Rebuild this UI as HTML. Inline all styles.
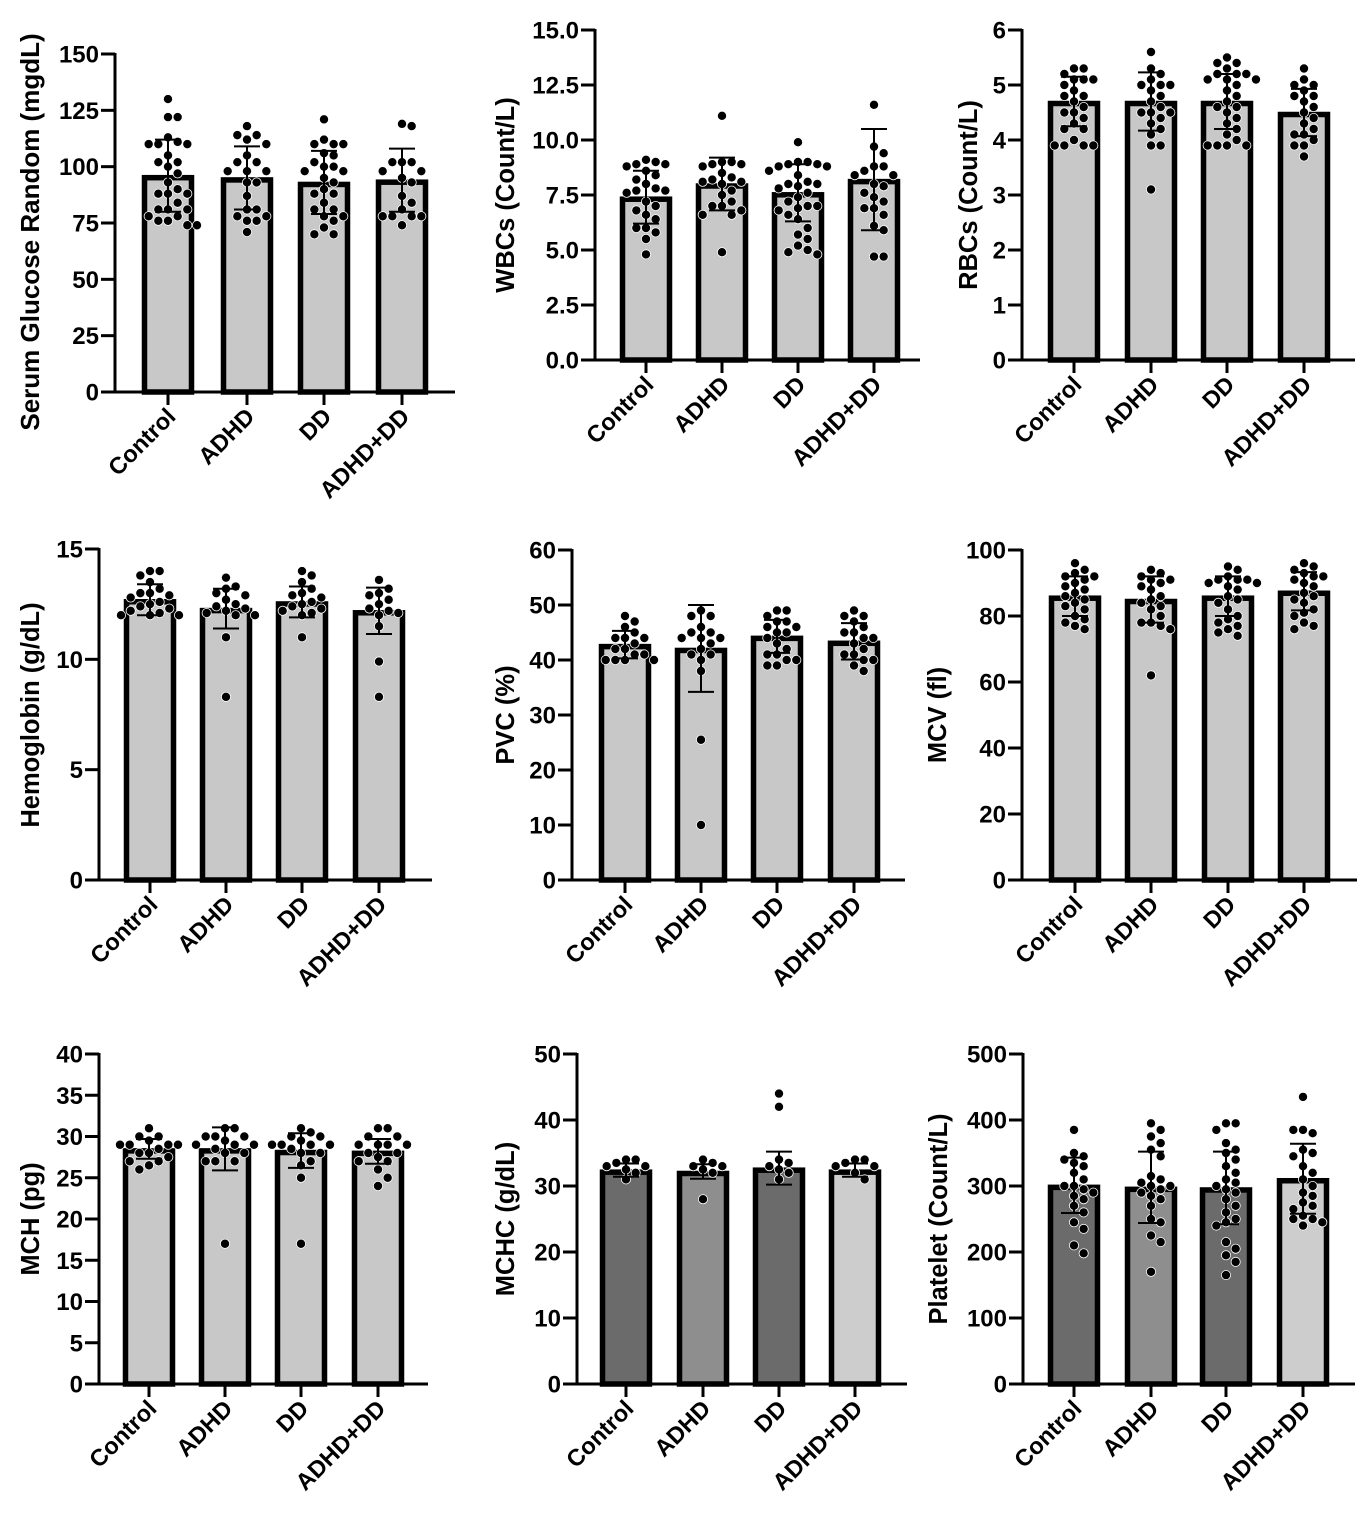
<!DOCTYPE html>
<html><head><meta charset="utf-8"><style>
html,body{margin:0;padding:0;background:#fff;}
svg{display:block;font-family:"Liberation Sans",Arial,sans-serif;font-weight:bold;}
</style></head><body>
<svg id="fig" width="1367" height="1530" viewBox="0 0 1367 1530"></svg>
<script>
const categories = ["Control","ADHD","DD","ADHD+DD"];

const glucoseMeans = [96,95,93,94];
const glucoseSd = [16,14,14,14];
const glucoseTicks = [0,25,50,75,100,125,150];
const glucoseDots = [
 [130,122,122,113,111,110,110,110,105,102,102,100,97,93,90,88,88,88,84,81,81,81,78,78,76,76,74,74],
 [118,114,114,112,110,105,102,102,98,98,98,93,93,87,81,81,78,78,76,76,71],
 [121,112,110,110,110,106,105,102,100,100,98,98,95,93,90,88,88,84,81,81,78,78,76,73,70,70],
 [119,118,102,102,102,98,98,95,93,87,84,81,78,78,78,78,74]];

const wbcMeans = [7.4,8.0,7.6,8.2];
const wbcSd = [1.2,1.2,1.3,2.3];
const wbcTicks = [0,2.5,5,7.5,10,12.5,15];
const wbcDots = [
 [9.1,9.0,8.9,8.9,8.8,8.6,8.4,8.2,8.0,7.8,7.7,7.7,7.6,7.2,7.0,6.8,6.6,6.4,6.0,6.0,5.8,5.5,4.8],
 [11.1,9.0,9.0,8.9,8.9,8.8,8.5,8.3,8.2,8.1,8.1,8.0,7.7,7.5,7.2,7.0,7.0,6.8,6.6,6.6,4.9],
 [9.9,9.0,9.0,8.9,8.9,8.8,8.8,8.6,8.4,8.1,8.0,8.0,7.9,7.8,7.6,7.4,7.2,7.0,7.0,6.9,6.8,6.6,6.4,6.0,5.7,5.5,5.2,5.0,4.9,4.8],
 [11.6,9.7,9.4,8.8,8.8,8.6,8.4,8.4,8.0,7.9,7.6,7.4,7.2,6.9,6.9,6.6,6.1,5.9,4.7,4.7]];

const rbcMeans = [4.7,4.7,4.7,4.5];
const rbcSd = [0.45,0.53,0.5,0.43];
const rbcTicks = [0,1,2,3,4,5,6];
const rbcDots = [
 [5.3,5.3,5.2,5.1,5.1,5.1,5.0,4.9,4.8,4.8,4.7,4.6,4.5,4.5,4.4,4.3,4.2,4.2,4.0,3.9,3.9,3.9,3.9],
 [5.6,5.3,5.2,5.1,5.0,5.0,5.0,4.9,4.8,4.7,4.6,4.5,4.5,4.5,4.4,4.3,4.2,4.1,3.9,3.9,3.1],
 [5.5,5.4,5.4,5.3,5.2,5.2,5.2,5.1,5.1,5.1,5.0,4.9,4.8,4.7,4.6,4.6,4.5,4.4,4.3,4.2,4.1,4.0,3.9,3.9,3.9,3.9],
 [5.3,5.1,5.0,5.0,4.9,4.8,4.8,4.7,4.6,4.5,4.4,4.3,4.2,4.1,4.1,4.0,3.9,3.9,3.7]];

const hbMeans = [12.7,12.3,12.6,12.2];
const hbSd = [0.7,0.9,0.7,1.05];
const hbTicks = [0,5,10,15];
const hbDots = [
 [14.0,14.0,13.8,13.5,13.2,13.0,13.0,12.9,12.8,12.6,12.5,12.4,12.3,12.2,12.1,12.0,12.0,12.0],
 [13.7,13.3,13.2,13.0,12.9,12.7,12.5,12.4,12.3,12.2,12.1,12.0,12.0,11.0,8.3],
 [14.0,13.8,13.5,13.2,13.0,12.9,12.8,12.6,12.5,12.4,12.3,12.2,12.1,12.0,11.0],
 [13.6,13.2,13.0,12.9,12.7,12.5,12.3,12.2,12.1,12.0,11.5,9.9,8.3]];

const pvcMeans = [42.8,42.1,44.3,43.4];
const pvcSd = [2.5,7.9,3.0,3.3];
const pvcTicks = [0,10,20,30,40,50,60];
const pvcDots = [
 [48,47,46,45,44,44,44,43,42,42,41,41,40,40,40,40],
 [49,48,48,46,45,45,44,44,44,43,42,41,41,40,38,25.5,10],
 [49,49,48,47,47,46,46,45,45,44,43,42,41,41,40,40,39,39],
 [49,48,48,47,46,45,45,44,44,43,42,41,41,40,40,39,38]];

const mcvMeans = [86,85,86,87.5];
const mcvSd = [6,7,6,5.8];
const mcvTicks = [0,20,40,60,80,100];
const mcvDots = [
 [96,94,93,92,92,91,90,89,88,87,86,85,84,83,82,80,79,78,77,76],
 [94,93,92,91,91,90,89,88,86,85,84,83,82,80,78,78,77,76,62],
 [95,94,92,91,91,91,90,90,89,88,86,85,84,82,80,79,78,77,76,75,74],
 [96,95,94,93,92,92,91,90,89,87,86,85,84,82,81,80,78,77,76]];

const mchMeans = [28.5,28.5,28.3,28.2];
const mchSd = [1.2,2.6,2.1,1.5];
const mchTicks = [0,5,10,15,20,25,30,35,40];
const mchDots = [
 [31,30,30,29.5,29,29,29,29,28.5,28,28,27.5,27,27,26.5,26],
 [31,31,30,30,30,29.5,29,29,29,28.5,28,28,27,27,27,17],
 [31,30.5,30,30,29.5,29,29,29,29,28.5,28,28,27,26.5,25,17],
 [31,31,30,30,29,29,29,29,28,28,27.5,27,27,26,25,24]];

const mchcMeans = [32.4,32.2,32.7,32.4];
const mchcSd = [1.0,1.1,2.5,1.0];
const mchcTicks = [0,10,20,30,40,50];
const mchcDots = [
 [34,34,33.5,33,33,32.5,32,31],
 [34,33.5,33,33,32.5,32,28],
 [44,42,34,33.5,33,32.5,32,31],
 [34,34,33.5,33,33,32,31]];

const pltMeans = [301,298,297,311];
const pltSd = [42,54,55,53];
const pltTicks = [0,100,200,300,400,500];
const pltDots = [
 [385,350,345,340,335,330,320,310,300,300,295,290,285,280,270,260,245,235,210,198],
 [395,385,375,365,355,345,315,310,305,300,300,295,290,285,280,270,250,245,225,215,170],
 [395,395,385,365,355,350,340,330,320,310,305,300,295,290,280,270,260,250,245,240,215,205,195,185,165],
 [435,385,380,385,355,350,345,330,320,310,300,290,285,275,270,265,255,250,250,245,240]];

const NS = "http://www.w3.org/2000/svg";
const fig = document.getElementById('fig');
function el(tag, attrs, parent){const e=document.createElementNS(NS,tag);for(const k in attrs)e.setAttribute(k,attrs[k]);(parent||fig).appendChild(e);return e;}

const light=["#c8c8c8","#c8c8c8","#c8c8c8","#c8c8c8"];
const dark=["#6b6b6b","#8e8e8e","#6b6b6b","#cdcdcd"];

function panel(cfg){
  const g=el('g',{});
  
  
  const max=cfg.ticks[cfg.ticks.length-1];
  const y=v=>cfg.bottom-(v/max)*(cfg.bottom-cfg.top);
  const bw=47;
  cfg.means.forEach((m,i)=>{
    const cx=cfg.cx[i];
    const r=el('rect',{x:cx-bw/2,y:y(m)+2,width:bw,height:cfg.bottom-y(m)-2,fill:cfg.colors[i],stroke:'#000','stroke-width':5.5},g);
    
    
  });
  cfg.dots.forEach((arr,i)=>{
    const cx=cfg.cx[i];const placed=[];const rr=4.6;
    arr.forEach(v=>{
      const py=y(v);let off=0;
      for(let k=0;k<30;k++){
        const cand=k===0?0:(k%2?1:-1)*Math.ceil(k/2)*(rr*2.1);
        if(!placed.some(p=>Math.hypot(p[0]-cand,p[1]-py)<rr*2)){off=cand;break;}
      }
      placed.push([off,py]);
      const c=el('circle',{cx:cx+off,cy:py,r:rr,fill:'#000',stroke:'#fff','stroke-width':0.8},g);
      
      
    });
  });
  cfg.means.forEach((m,i)=>{
    const cx=cfg.cx[i];const s=cfg.sd[i];
    const eg=el('g',{stroke:'#000','stroke-width':2},g);
    
    
    el('line',{x1:cx,x2:cx,y1:y(m+s),y2:y(m-s)},eg);
    el('line',{x1:cx-13,x2:cx+13,y1:y(m+s),y2:y(m+s)},eg);
    el('line',{x1:cx-13,x2:cx+13,y1:y(m-s),y2:y(m-s)},eg);
  });
  const ya=el('line',{x1:cfg.axis,x2:cfg.axis,y1:cfg.top-1,y2:cfg.bottom+1.5,stroke:'#000','stroke-width':3},g);
  
  
  const xa=el('line',{x1:cfg.axis-14,x2:cfg.xend,y1:cfg.bottom,y2:cfg.bottom,stroke:'#000','stroke-width':3},g);
  
  
  cfg.ticks.forEach(t=>{
    el('line',{x1:cfg.axis-14,x2:cfg.axis,y1:y(t),y2:y(t),stroke:'#000','stroke-width':3},g);
    const tx=el('text',{x:cfg.axis-16,y:y(t)+8.5,'text-anchor':'end','font-size':24},g);
    tx.textContent=cfg.fmt?t.toFixed(1):String(t);
    
    
  });
  categories.forEach((c,i)=>{
    const cx=cfg.cx[i];
    el('line',{x1:cx,x2:cx,y1:cfg.bottom,y2:cfg.bottom+13,stroke:'#000','stroke-width':3},g);
    const tx=el('text',{x:cx+9,y:cfg.bottom+26,'text-anchor':'end','font-size':23.5,transform:`rotate(-45 ${cx+9} ${cfg.bottom+26})`},g);
    tx.textContent=c;
    
    
  });
  const ty=el('text',{x:cfg.tx,y:cfg.ty,'text-anchor':'middle','font-size':cfg.tfs||25.5,transform:`rotate(-90 ${cfg.tx} ${cfg.ty})`},g);
  ty.textContent=cfg.title;
  
  
}

panel({name:'glucose-chart',means:glucoseMeans,sd:glucoseSd,ticks:glucoseTicks,dots:glucoseDots,colors:light,
  axis:115,top:54,bottom:392,xend:455,cx:[168,247,324,402],title:'Serum Glucose Random (mgdL)',tx:39,ty:232,tfs:26});
panel({name:'wbc-chart',means:wbcMeans,sd:wbcSd,ticks:wbcTicks,dots:wbcDots,colors:light,fmt:true,
  axis:595,top:30,bottom:360,xend:920,cx:[646,722,798,874],title:'WBCs (Count/L)',tx:514,ty:195});
panel({name:'rbc-chart',means:rbcMeans,sd:rbcSd,ticks:rbcTicks,dots:rbcDots,colors:light,
  axis:1022,top:30,bottom:360,xend:1355,cx:[1074,1151,1227,1304],title:'RBCs (Count/L)',tx:977,ty:195});
panel({name:'hemoglobin-chart',means:hbMeans,sd:hbSd,ticks:hbTicks,dots:hbDots,colors:light,
  axis:99,top:549,bottom:880,xend:432,cx:[150,226,302,379],title:'Hemoglobin (g/dL)',tx:39,ty:715});
panel({name:'pvc-chart',means:pvcMeans,sd:pvcSd,ticks:pvcTicks,dots:pvcDots,colors:light,
  axis:572,top:550,bottom:880,xend:905,cx:[625,701,777,854],title:'PVC (%)',tx:514,ty:715});
panel({name:'mcv-chart',means:mcvMeans,sd:mcvSd,ticks:mcvTicks,dots:mcvDots,colors:light,
  axis:1022,top:550,bottom:880,xend:1357,cx:[1075,1151,1228,1304],title:'MCV (fl)',tx:946,ty:715});
panel({name:'mch-chart',means:mchMeans,sd:mchSd,ticks:mchTicks,dots:mchDots,colors:light,
  axis:99,top:1054,bottom:1384,xend:428,cx:[149,225,301,378],title:'MCH (pg)',tx:39,ty:1219});
panel({name:'mchc-chart',means:mchcMeans,sd:mchcSd,ticks:mchcTicks,dots:mchcDots,colors:dark,
  axis:577,top:1054,bottom:1384,xend:907,cx:[626,703,779,855],title:'MCHC (g/dL)',tx:514,ty:1219});
panel({name:'platelet-chart',means:pltMeans,sd:pltSd,ticks:pltTicks,dots:pltDots,colors:dark,
  axis:1023,top:1054,bottom:1384,xend:1355,cx:[1074,1151,1226,1303],title:'Platelet (Count/L)',tx:947,ty:1219});
</script>
</body></html>
